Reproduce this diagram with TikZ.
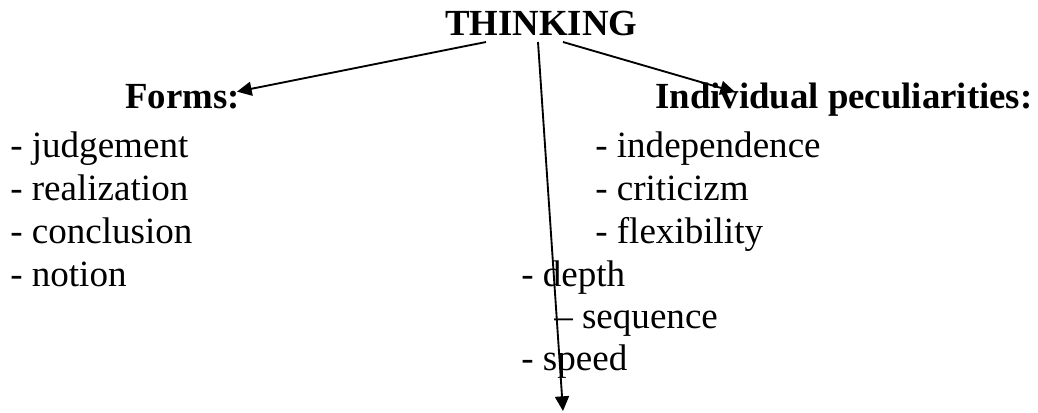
\documentclass[tikz,border=0pt]{standalone}
\usepackage{fontspec}
\setmainfont{Liberation Serif}
\usetikzlibrary{arrows.meta}

\begin{document}
\begin{tikzpicture}[x=0.75pt, y=-0.75pt,
    every node/.style={font=\fontsize{27.8}{33}\selectfont, inner sep=0pt, anchor=base west},
    head/.style={font=\fontsize{27.6}{33}\selectfont\bfseries},
    arr/.style={-{Triangle[length=11pt,width=10.5pt]}, line width=1.4pt}]
    \useasboundingbox (0,0) rectangle (1038,412);

    \node[head] (think) at (445,35) {THINKING};
    \node[head] (forms) at (125,108) {Forms:};
    \node[head] (indiv) at (655,108) {Individual peculiarities:};

    % forms of thinking
    \node (judge) at (10,157) {- judgement};
    \node (real)  at (10,200) {- realization};
    \node (concl) at (10,243) {- conclusion};
    \node (notion) at (10,286) {- notion};

    % individual peculiarities
    \node (indep) at (595,157) {- independence};
    \node (crit)  at (595,200) {- criticizm};
    \node (flex)  at (595,243) {- flexibility};
    \node (depth) at (521,286) {- depth};
    \node (seq)   at (554,328) {– sequence};
    \node (speed) at (521,370) {- speed};

    \coordinate (bottom) at (563,411);
    \draw[arr] ([shift={(41,7)}]think.base west) -- ([shift={(-3,8)}]forms.north east);
    \draw[arr] ([shift={(118,7)}]think.base west) -- ([shift={(80,-16)}]indiv.base west);
    \draw[arr] ([shift={(93,7)}]think.base west) -- (bottom);
\end{tikzpicture}
\end{document}
